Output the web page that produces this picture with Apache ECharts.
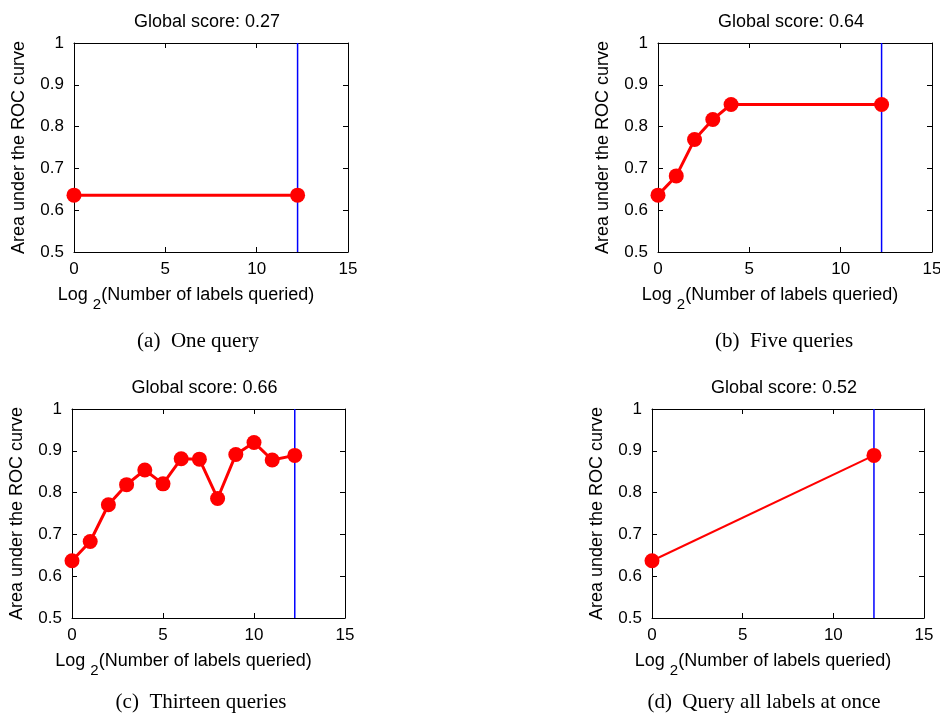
<!DOCTYPE html>
<html>
<head>
<meta charset="utf-8">
<script src="https://cdn.jsdelivr.net/npm/echarts@6/dist/echarts.min.js"></script>
<style>
  html, body { margin: 0; padding: 0; background: #fff; }
  #chart { width: 940px; height: 716px; }
</style>
</head>
<body>
<div id="chart"></div>
<script>
// ---- data ----
const panelTitles = ['Global score: 0.27', 'Global score: 0.64', 'Global score: 0.66', 'Global score: 0.52'];
const captions = ['(a)  One query', '(b)  Five queries', '(c)  Thirteen queries', '(d)  Query all labels at once'];
const xAxisTicks = [0, 5, 10, 15];
const yAxisTicks = [0.5, 0.6, 0.7, 0.8, 0.9, 1];
const totalLabelsLog2 = 12.24; // blue vertical line position

const xA = [0, 12.24];
const yA = [0.636, 0.636];

const xB = [0, 1, 2, 3, 4, 12.24];
const yB = [0.636, 0.682, 0.769, 0.817, 0.853, 0.853];

const xC = [0, 1, 2, 3, 4, 5, 6, 7, 8, 9, 10, 11, 12.24];
const yC = [0.637, 0.683, 0.771, 0.819, 0.854, 0.821, 0.881, 0.880, 0.786, 0.891, 0.920, 0.878, 0.889];

const xD = [0, 12.24];
const yD = [0.637, 0.889];

// ---- layout ----
const SANS = '"Liberation Sans", Arial, Helvetica, sans-serif';
const SERIF = '"Liberation Serif", "Times New Roman", Times, serif';

const grids = [
  { left: 74,  top: 43,  width: 274, height: 209 },
  { left: 658, top: 43,  width: 274, height: 209 },
  { left: 72,  top: 409, width: 273, height: 209 },
  { left: 652, top: 409, width: 272, height: 209 }
];
const lineWidths = [3, 3, 3, 2];
const captionPos = [[198, 341], [784, 341], [201, 702], [764, 702]];
const panelData = [[xA, yA], [xB, yB], [xC, yC], [xD, yD]];

const pair = (xs, ys) => xs.map((x, i) => [x, ys[i]]);

const xAxes = [], yAxes = [], series = [], graphics = [];

grids.forEach((g, i) => {
  const common = {
    gridIndex: i,
    type: 'value',
    axisLine: { show: true, onZero: false, lineStyle: { color: '#000', width: 1 } },
    axisTick: { show: true, inside: true, length: 5, lineStyle: { color: '#000', width: 1 } },
    splitLine: { show: false }
  };
  // bottom x
  xAxes.push(Object.assign({}, common, {
    position: 'bottom', min: xAxisTicks[0], max: xAxisTicks[xAxisTicks.length - 1], interval: 5,
    axisLabel: { show: true, color: '#000', fontSize: 17, fontFamily: SANS, margin: 9 },
    name: '{n|Log }{s|2}{n|(Number of labels queried)}',
    nameLocation: 'middle', nameGap: 25,
    nameTextStyle: {
      color: '#000', fontSize: 18, fontFamily: SANS, padding: [0, 50, 0, 0],
      rich: {
        n: { fontSize: 18, fontFamily: SANS, color: '#000', lineHeight: 22 },
        s: { fontSize: 15, fontFamily: SANS, color: '#000', lineHeight: 14, padding: [18, 0, 0, 0] }
      }
    }
  }));
  // top x (ticks only)
  xAxes.push(Object.assign({}, common, {
    position: 'top', min: 0, max: 15, interval: 5,
    axisLabel: { show: false }
  }));
  // left y
  yAxes.push(Object.assign({}, common, {
    position: 'left', min: yAxisTicks[0], max: yAxisTicks[yAxisTicks.length - 1], interval: 0.1,
    axisLabel: { show: true, color: '#000', fontSize: 17, fontFamily: SANS, margin: 10 },
    name: 'Area under the ROC curve',
    nameLocation: 'middle', nameGap: 46, nameRotate: 90,
    nameTextStyle: { color: '#000', fontSize: 18, fontFamily: SANS }
  }));
  // right y (ticks only)
  yAxes.push(Object.assign({}, common, {
    position: 'right', min: 0.5, max: 1, interval: 0.1,
    axisLabel: { show: false }
  }));

  // blue vertical line
  series.push({
    type: 'line',
    xAxisIndex: 2 * i, yAxisIndex: 2 * i,
    data: [[totalLabelsLog2, yAxisTicks[0]], [totalLabelsLog2, yAxisTicks[yAxisTicks.length - 1]]],
    showSymbol: false, symbol: 'none',
    lineStyle: { color: '#0000ff', width: 1.5 },
    silent: true, animation: false, z: 2
  });
  // red data line
  series.push({
    type: 'line',
    xAxisIndex: 2 * i, yAxisIndex: 2 * i,
    data: pair(panelData[i][0], panelData[i][1]),
    symbol: 'circle', symbolSize: 15, showAllSymbol: true,
    itemStyle: { color: '#ff0000' },
    lineStyle: { color: '#ff0000', width: lineWidths[i] },
    animation: false, z: 3
  });

  // panel title
  graphics.push({
    type: 'text',
    x: g.left + g.width / 2 - 4,
    y: g.top - 21,
    style: { text: panelTitles[i], fontSize: 18, fontFamily: SANS, fill: '#000', align: 'center', verticalAlign: 'middle' }
  });
  // caption
  graphics.push({
    type: 'text',
    x: captionPos[i][0],
    y: captionPos[i][1],
    style: { text: captions[i], fontSize: 21, fontFamily: SERIF, fill: '#000', align: 'center', verticalAlign: 'middle' }
  });
});

const chart = echarts.init(document.getElementById('chart'), null, { renderer: 'canvas' });
chart.setOption({
  backgroundColor: '#fff',
  animation: false,
  grid: grids.map(g => Object.assign({ outerBoundsMode: 'none', containLabel: false }, g)),
  xAxis: xAxes,
  yAxis: yAxes,
  series: series,
  graphic: graphics
});
</script>
</body>
</html>
